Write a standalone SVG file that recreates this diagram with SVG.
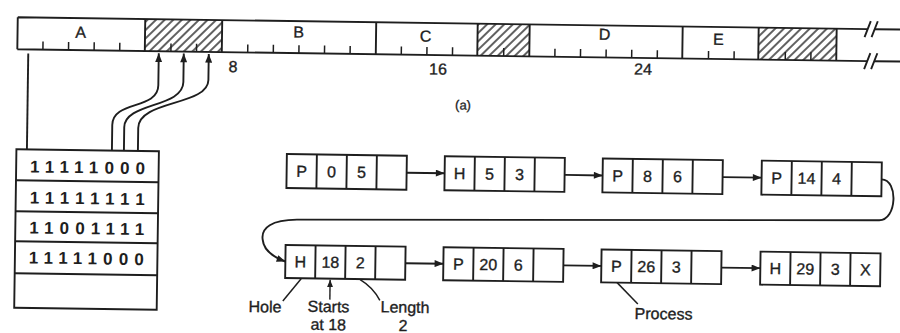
<svg xmlns="http://www.w3.org/2000/svg" width="900" height="333" viewBox="0 0 900 333">
<defs>
<style>
.ln{fill:none;stroke:#1e1e1e;stroke-width:1.9}
.thin{fill:none;stroke:#1e1e1e;stroke-width:1.5}
.box{fill:#fff;stroke:#1e1e1e;stroke-width:1.9}
.t{font-family:"Liberation Sans",Arial,sans-serif;font-size:16px;fill:#1e1e1e;stroke:#1e1e1e;stroke-width:0.35;text-anchor:middle}
.sm{font-family:"Liberation Sans",Arial,sans-serif;font-size:13px;fill:#1e1e1e;stroke:#1e1e1e;stroke-width:0.3;text-anchor:middle}
.bits{font-family:"Liberation Sans",Arial,sans-serif;font-size:17px;font-weight:bold;fill:#1e1e1e;text-anchor:middle}
.arr{fill:none;stroke:#1e1e1e;stroke-width:1.9;marker-end:url(#ah)}
.arrs{fill:none;stroke:#1e1e1e;stroke-width:1.4;marker-end:url(#ahs)}
</style>
<pattern id="hatch" patternUnits="userSpaceOnUse" width="6" height="6" patternTransform="rotate(45)">
<line x1="3" y1="-1" x2="3" y2="7" stroke="#1e1e1e" stroke-width="1.4"/>
</pattern>
<marker id="ah" viewBox="0 0 10 8" refX="10" refY="4" markerWidth="10" markerHeight="7" orient="auto" markerUnits="userSpaceOnUse">
<path d="M0,0 L10,4 L0,8 z" fill="#1e1e1e"/>
</marker>
<marker id="ahs" viewBox="0 0 10 8" refX="10" refY="4" markerWidth="8" markerHeight="6" orient="auto" markerUnits="userSpaceOnUse">
<path d="M0,0 L10,4 L0,8 z" fill="#1e1e1e"/>
</marker>
</defs>
<rect width="900" height="333" fill="#fff"/>
<g transform="rotate(0.8)">
<g id="memory">
<rect x="145.5" y="17" width="77" height="32" fill="url(#hatch)"/>
<rect x="478" y="17" width="52" height="32" fill="url(#hatch)"/>
<rect x="759" y="17" width="78" height="32" fill="url(#hatch)"/>
<path class="ln" d="M18 17 H868 M875 17 H912 M18 49 H868 M875 49 H912 M18 17 V49"/>
<path class="ln" d="M865 25 L871 9 M872 25 L878 9 M865 57 L871 41 M872 57 L878 41"/>
<path class="ln" d="M145.5 17 V49 M222.5 17 V49 M376.5 17 V49 M478 17 V49 M530 17 V49 M683 17 V49 M759 17 V49 M837 17 V49"/>
<path class="thin" d="M43.6 49 v-8 M69.2 49 v-8 M94.8 49 v-8 M120.4 49 v-8 M171.6 49 v-8 M197.2 49 v-8 M248.4 49 v-8 M274 49 v-8 M299.6 49 v-8 M325.2 49 v-8 M350.8 49 v-8 M402 49 v-8 M427.6 49 v-8 M453.2 49 v-8 M504.4 49 v-8 M555.6 49 v-8 M581.2 49 v-8 M606.8 49 v-8 M632.4 49 v-8 M658 49 v-8 M709.2 49 v-8 M734.8 49 v-8 M786 49 v-8 M811.6 49 v-8"/>
<text class="t" x="81" y="36.6">A</text>
<text class="t" x="299" y="33.3">B</text>
<text class="t" x="426" y="35.7">C</text>
<text class="t" x="605" y="31.5">D</text>
<text class="t" x="719" y="34.7">E</text>
<text class="t" x="234" y="68.8">8</text>
<text class="t" x="439" y="68.5">16</text>
<text class="t" x="644" y="65.7">24</text>
<text class="sm" x="464.5" y="103">(a)</text>
</g>
<g id="bitmap">
<rect class="box" x="18.5" y="149" width="142.5" height="158.5"/>
<path class="ln" d="M18.5 180 H161 M18.5 211 H161 M18.5 241 H161 M18.5 273 H161"/>
<text class="bits" x="90" y="172" textLength="115" lengthAdjust="spacing">11111000</text>
<text class="bits" x="90" y="203" textLength="115" lengthAdjust="spacing">11111111</text>
<text class="bits" x="90" y="233" textLength="115" lengthAdjust="spacing">11001111</text>
<text class="bits" x="90" y="263" textLength="115" lengthAdjust="spacing">11111000</text>
</g>
<g id="node-p05">
<rect class="box" x="289" y="150" width="120" height="34"/>
<path class="ln" d="M319 150 V184 M349 150 V184 M379 150 V184"/>
<text class="t" x="304" y="172.7">P</text><text class="t" x="334" y="172.7">0</text><text class="t" x="364" y="172.7">5</text>
</g>
<g id="node-h53">
<rect class="box" x="447" y="150" width="120" height="34"/>
<path class="ln" d="M477 150 V184 M507 150 V184 M537 150 V184"/>
<text class="t" x="462" y="172.7">H</text><text class="t" x="492" y="172.7">5</text><text class="t" x="522" y="172.7">3</text>
</g>
<g id="node-p86">
<rect class="box" x="605" y="150" width="120" height="34"/>
<path class="ln" d="M635 150 V184 M665 150 V184 M695 150 V184"/>
<text class="t" x="620" y="172.7">P</text><text class="t" x="650" y="172.7">8</text><text class="t" x="680" y="172.7">6</text>
</g>
<g id="node-p144">
<rect class="box" x="764" y="150" width="120" height="34"/>
<path class="ln" d="M794 150 V184 M824 150 V184 M854 150 V184"/>
<text class="t" x="779" y="172.7">P</text><text class="t" x="809" y="172.7">14</text><text class="t" x="839" y="172.7">4</text>
</g>
<g id="node-h182">
<rect class="box" x="289" y="241" width="120" height="33"/>
<path class="ln" d="M319 241 V274 M349 241 V274 M379 241 V274"/>
<text class="t" x="304" y="263.2">H</text><text class="t" x="334" y="263.2">18</text><text class="t" x="364" y="263.2">2</text>
</g>
<g id="node-p206">
<rect class="box" x="447" y="241" width="120" height="33"/>
<path class="ln" d="M477 241 V274 M507 241 V274 M537 241 V274"/>
<text class="t" x="462" y="263.2">P</text><text class="t" x="492" y="263.2">20</text><text class="t" x="522" y="263.2">6</text>
</g>
<g id="node-p263">
<rect class="box" x="605" y="241" width="120" height="33"/>
<path class="ln" d="M635 241 V274 M665 241 V274 M695 241 V274"/>
<text class="t" x="620" y="263.2">P</text><text class="t" x="650" y="263.2">26</text><text class="t" x="680" y="263.2">3</text>
</g>
<g id="node-h293">
<rect class="box" x="764" y="241" width="120" height="33"/>
<path class="ln" d="M794 241 V274 M824 241 V274 M854 241 V274"/>
<text class="t" x="779" y="263.2">H</text><text class="t" x="809" y="263.2">29</text><text class="t" x="839" y="263.2">3</text><text class="t" x="869" y="263.2">X</text>
</g>
<g id="connectors">
<path class="ln" d="M29 53 V149"/>
<path class="arr" d="M114 149 L114 123.5 C114 98.5 159.5 108 159.5 83 L159.5 51"/>
<path class="arr" d="M126 149 L126 125.5 C126 100.5 184.5 105.5 184.5 79.5 L184.5 51"/>
<path class="arr" d="M140 149 L140 126 C140 98 209.5 103 209.5 77 L209.5 51"/>
<path class="arr" d="M409 167 H447"/>
<path class="arr" d="M567 167 H605"/>
<path class="arr" d="M725 167 H764"/>
<path class="arr" d="M884 167 C901 167 900 208 882 208 L300 215.5 C275 216 264 224 266 236 C267 246 276 253 289 257.5"/>
<path class="arr" d="M409 257.5 H447"/>
<path class="arr" d="M567 257.5 H605"/>
<path class="arr" d="M725 257.5 H764"/>
</g>
<g id="labels">
<path class="thin" d="M287 297 L305 274.5"/>
<path class="arrs" d="M334 295 V275"/>
<path class="thin" d="M364 274.5 Q377 282 384 295"/>
<path class="thin" d="M621 274 L642 295"/>
<text class="t" x="269.3" y="308.5">Hole</text>
<text class="t" x="332.8" y="307.5">Starts</text>
<text class="t" x="332.8" y="325.5">at 18</text>
<text class="t" x="409.3" y="307">Length</text>
<text class="t" x="407.6" y="325.5">2</text>
<text class="t" x="667.9" y="310">Process</text>
</g>
</g>
</svg>
